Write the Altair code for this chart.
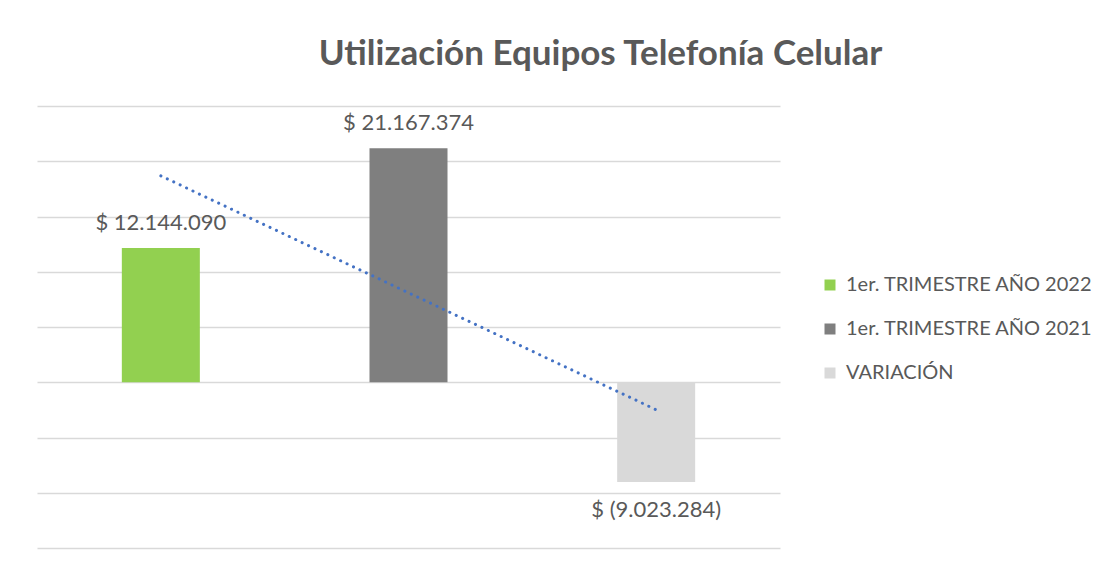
import altair as alt
import pandas as pd

categories = ["1er. TRIMESTRE AÑO 2022", "1er. TRIMESTRE AÑO 2021", "VARIACIÓN"]
values = [12144090, 21167374, -9023284]
labels = ["$ 12.144.090", "$ 21.167.374", "$ (9.023.284)"]
order = [1, 2, 3]
colors = ["#92D050", "#7F7F7F", "#D9D9D9"]
y_ticks = [-15000000, -10000000, -5000000, 0, 5000000, 10000000, 15000000, 20000000, 25000000]

df = pd.DataFrame({"cat": categories, "value": values, "label": labels, "idx": order})

FONT = "Lato"
TXT = "#595959"

x_band = alt.X("cat:N", sort=categories, axis=None,
               scale=alt.Scale(domain=categories, paddingInner=0.685, paddingOuter=0.3425))
y_enc = alt.Y("value:Q", axis=alt.Axis(values=y_ticks, labels=False, ticks=False, domain=False,
                                        grid=True, gridColor="#D9D9D9", gridWidth=1.5, title=None),
              scale=alt.Scale(domain=[-15000000, 25000000], nice=False))

bars = alt.Chart(df).mark_bar().encode(
    x=x_band,
    y=y_enc,
    y2=alt.datum(0),
    color=alt.Color("cat:N", sort=categories,
                    scale=alt.Scale(domain=categories, range=colors),
                    legend=alt.Legend(title=None, orient="none", legendX=783, legendY=169,
                                      symbolType="square", symbolSize=121, symbolStrokeWidth=0,
                                      labelFont=FONT, labelFontSize=20, labelColor=TXT,
                                      labelLimit=0, labelOffset=6, rowPadding=24, padding=0)),
)

pos_labels = alt.Chart(df).transform_filter("datum.value >= 0").mark_text(
    font=FONT, fontSize=22, color=TXT, baseline="alphabetic", dy=-18
).encode(x=x_band, y=alt.Y("value:Q"), text="label:N")

neg_labels = alt.Chart(df).transform_filter("datum.value < 0").mark_text(
    font=FONT, fontSize=22, color=TXT, baseline="alphabetic", dy=35
).encode(x=x_band, y=alt.Y("value:Q"), text="label:N")

trend = alt.Chart(df).transform_regression("idx", "value").mark_line(
    color="#4472C4", strokeWidth=3, strokeDash=[0.1, 7], strokeCap="round"
).encode(
    x=alt.X("idx:Q", axis=None, scale=alt.Scale(domain=[0.5, 3.5], nice=False, zero=False)),
    y=alt.Y("value:Q"),
)

chart = alt.layer(alt.layer(bars, pos_labels, neg_labels), trend).resolve_scale(x="independent").properties(
    width=743, height=442,
    autosize=alt.AutoSizeParams(type="none"),
    padding={"left": 29, "top": 98, "right": 331, "bottom": 21},
    title=alt.TitleParams("Utilización Equipos Telefonía Celular", font=FONT, fontSize=35,
                          fontWeight="bold", color=TXT, anchor="middle", frame="group",
                          baseline="alphabetic", offset=6, dx=192),
).configure(background="white").configure_view(strokeWidth=0, stroke="transparent")

chart.save("out.html", embed_options={"renderer": "svg", "actions": False})
